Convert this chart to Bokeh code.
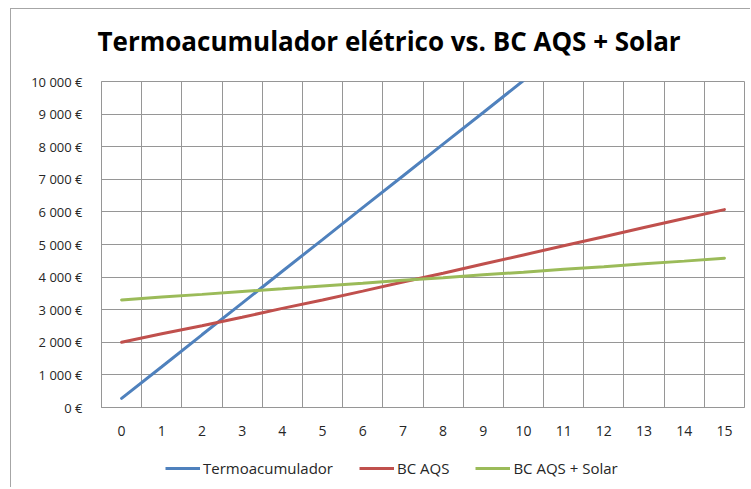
from bokeh.plotting import figure
from bokeh.layouts import column
from bokeh.models import FixedTicker, Legend, LegendItem
from bokeh.embed import file_html
from bokeh.resources import INLINE

# ---- data ----
years = list(range(16))
years_termo = list(range(11))
termo = [280, 1250, 2230, 3200, 4180, 5150, 6130, 7100, 8080, 9050, 10030]
bc_aqs = [2000, 2260, 2510, 2770, 3040, 3300, 3570, 3850, 4120, 4400, 4680, 4960, 5240, 5520, 5800, 6070]
bc_solar = [3300, 3390, 3470, 3560, 3640, 3730, 3810, 3900, 3980, 4070, 4150, 4240, 4320, 4410, 4490, 4580]
y_ticks = [0, 1000, 2000, 3000, 4000, 5000, 6000, 7000, 8000, 9000, 10000]
y_tick_labels = ["0 €", "1 000 €", "2 000 €", "3 000 €", "4 000 €", "5 000 €",
                 "6 000 €", "7 000 €", "8 000 €", "9 000 €", "10 000 €"]
series_names = ["Termoacumulador", "BC AQS", "BC AQS + Solar"]
title_text = "Termoacumulador elétrico vs. BC AQS + Solar"

FONT = "Open Sans"
GRID = "#969696"
TXT = "#262626"
colors = ["#4F81BD", "#C0504D", "#9BBB59"]

# ---- main chart ----
p = figure(frame_width=643, frame_height=326, x_range=(-0.5, 15.5), y_range=(0, 10000),
           output_backend="svg", toolbar_location=None,
           min_border_left=101, min_border_right=6, min_border_top=81, min_border_bottom=50)
p.border_fill_alpha = 0
p.background_fill_color = "white"
p.outline_line_color = GRID
p.styles = {"box-shadow": "inset 10px 8px 0 0 #ffffff, inset 11px 9px 0 0 #a6a6a6"}

p.title.text = title_text
p.title.align = "left"
p.title.offset = -4
p.title.text_font = FONT
p.title.text_font_style = "bold"
p.title.text_font_size = "26px"
p.title.text_color = "black"
p.title.vertical_align = "top"
p.title.standoff = 42

p.xgrid.ticker = FixedTicker(ticks=[i + 0.5 for i in range(15)])
p.xgrid.grid_line_color = GRID
p.ygrid.ticker = FixedTicker(ticks=y_ticks)
p.ygrid.grid_line_color = GRID

p.xaxis.ticker = FixedTicker(ticks=years)
p.yaxis.ticker = FixedTicker(ticks=y_ticks)
p.yaxis.major_label_overrides = {t: l for t, l in zip(y_ticks, y_tick_labels)}
for ax in (p.xaxis[0], p.yaxis[0]):
    ax.axis_line_color = GRID
    ax.major_tick_line_color = None
    ax.minor_tick_line_color = None
    ax.major_tick_out = 0
    ax.major_tick_in = 0
    ax.major_label_text_font = FONT
    ax.major_label_text_color = TXT
p.yaxis.major_label_text_font_size = "13px"
p.xaxis.major_label_text_font_size = "14px"
p.yaxis.major_label_standoff = 19
p.xaxis.major_label_standoff = 18

p.line(years_termo, termo, line_color=colors[0], line_width=3, line_cap="round")
p.line(years, bc_aqs, line_color=colors[1], line_width=3, line_cap="round")
p.line(years, bc_solar, line_color=colors[2], line_width=3, line_cap="round")

# ---- legend strip (same series, view range placed so only the legend shows) ----
q = figure(width=750, height=30, x_range=(100, 101), y_range=(0, 10000),
           output_backend="svg", toolbar_location=None,
           x_axis_type=None, y_axis_type=None,
           min_border=0, min_border_left=0, min_border_right=0,
           min_border_top=0, min_border_bottom=0)
q.grid.visible = False
q.outline_line_color = None
q.background_fill_alpha = 0
q.border_fill_alpha = 0
q.styles = {"box-shadow": "inset 10px 0 0 0 #ffffff, inset 11px 0 0 0 #a6a6a6"}

l1 = q.line(years_termo, termo, line_color=colors[0], line_width=3)
l2 = q.line(years, bc_aqs, line_color=colors[1], line_width=3)
l3 = q.line(years, bc_solar, line_color=colors[2], line_width=3)

legend = Legend(items=[LegendItem(label=series_names[0], renderers=[l1]),
                       LegendItem(label=series_names[1], renderers=[l2]),
                       LegendItem(label=series_names[2], renderers=[l3])],
                orientation="horizontal", location=(64, 9),
                glyph_width=35, glyph_height=20, label_height=20, label_standoff=3,
                spacing=26, padding=0, margin=0,
                border_line_color=None, background_fill_alpha=0,
                label_text_font=FONT, label_text_font_size="15px", label_text_color=TXT)
q.add_layout(legend, "center")

layout = column(p, q, spacing=0)
open("out.html", "w").write(file_html(layout, INLINE))
